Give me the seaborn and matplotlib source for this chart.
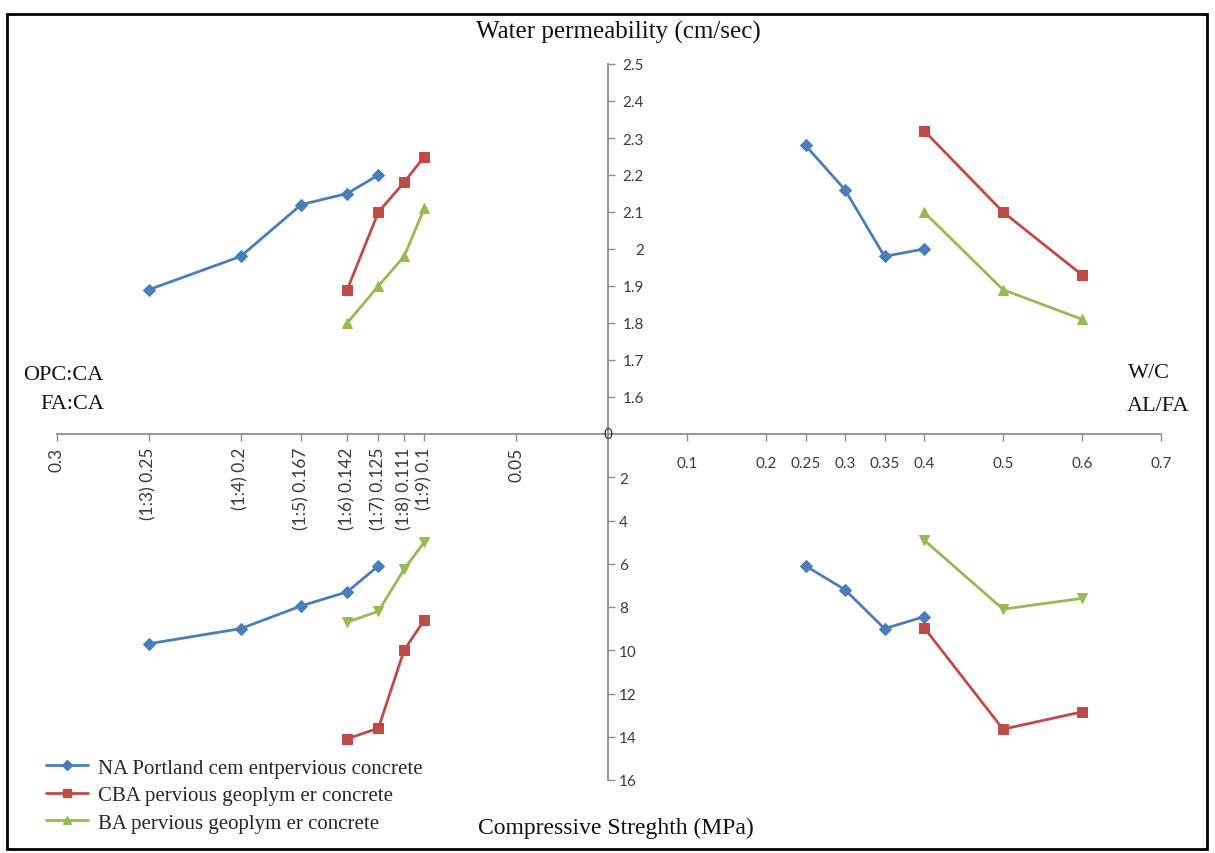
import matplotlib
matplotlib.use("Agg")
import matplotlib.pyplot as plt
import seaborn as sns
from matplotlib.lines import Line2D
from matplotlib.patches import Rectangle

# ---------------- data ----------------
series_names = ["NA Portland cem entpervious concrete",
                "CBA pervious geoplym er concrete",
                "BA pervious geoplym er concrete"]

# left half: OPC:CA / FA:CA ratio
x_left_np = [0.25, 0.2, 0.167, 0.142, 0.125]
x_left_geo = [0.142, 0.125, 0.111, 0.1]
perm_left_np = [1.89, 1.98, 2.12, 2.15, 2.20]
perm_left_cba = [1.89, 2.10, 2.18, 2.25]
perm_left_ba = [1.80, 1.90, 1.98, 2.11]
str_left_np = [9.7, 9.0, 7.95, 7.3, 6.1]
str_left_cba = [14.1, 13.6, 10.0, 8.6]
str_left_ba = [8.7, 8.2, 6.25, 5.0]

# right half: W/C and AL/FA ratio
x_right_np = [0.25, 0.3, 0.35, 0.4]
x_right_geo = [0.4, 0.5, 0.6]
perm_right_np = [2.28, 2.16, 1.98, 2.00]
perm_right_cba = [2.32, 2.10, 1.93]
perm_right_ba = [2.10, 1.89, 1.81]
str_right_np = [6.1, 7.2, 9.0, 8.45]
str_right_cba = [8.95, 13.65, 12.85]
str_right_ba = [4.9, 8.1, 7.6]

left_ticks = [0.3, 0.25, 0.2, 0.167, 0.142, 0.125, 0.111, 0.1, 0.05]
left_tick_labels = ["0.3", "(1:3) 0.25", "(1:4) 0.2", "(1:5) 0.167", "(1:6) 0.142",
                    "(1:7) 0.125", "(1:8) 0.111", "(1:9) 0.1", "0.05"]
right_ticks = [0.1, 0.2, 0.25, 0.3, 0.35, 0.4, 0.5, 0.6, 0.7]
right_tick_labels = ["0.1", "0.2", "0.25", "0.3", "0.35", "0.4", "0.5", "0.6", "0.7"]
perm_ticks = [1.6, 1.7, 1.8, 1.9, 2.0, 2.1, 2.2, 2.3, 2.4, 2.5]
perm_tick_labels = ["1.6", "1.7", "1.8", "1.9", "2", "2.1", "2.2", "2.3", "2.4", "2.5"]
str_ticks = [2, 4, 6, 8, 10, 12, 14, 16]
str_tick_labels = ["2", "4", "6", "8", "10", "12", "14", "16"]

# ---------------- style ----------------
sns.set_theme(style="white")
plt.rcParams["font.family"] = ["Liberation Serif", "DejaVu Sans"]

BLUE, RED, GREEN = "#4A7EBB", "#BE4B48", "#98B954"
AXC = "#8C8C8C"
TICKC = "#3A3A3A"
TICKFONT = "Lato"
TFS = 11

W, H = 1215, 854
fig = plt.figure(figsize=(W / 100, H / 100), dpi=100)


def rect(x0, y0, x1, y1):
    return [x0 / W, 1 - y1 / H, (x1 - x0) / W, (y1 - y0) / H]


CX, CY, XL, XR, YT, YB = 608, 435, 57, 1161, 65, 781
ax_tl = fig.add_axes(rect(XL, YT, CX, CY))
ax_tr = fig.add_axes(rect(CX, YT, XR, CY))
ax_bl = fig.add_axes(rect(XL, CY, CX, YB))
ax_br = fig.add_axes(rect(CX, CY, XR, YB))
axes = [ax_tl, ax_tr, ax_bl, ax_br]

for ax in axes:
    ax.set_facecolor("none")
    for s in ax.spines.values():
        s.set_visible(False)

ax_tl.set_xlim(0.3, 0); ax_tl.set_ylim(1.5, 2.5)
ax_tr.set_xlim(0, 0.7); ax_tr.set_ylim(1.5, 2.5)
ax_bl.set_xlim(0.3, 0); ax_bl.set_ylim(16, 0)
ax_br.set_xlim(0, 0.7); ax_br.set_ylim(16, 0)


def draw(ax, x, y, color, marker, ms):
    sns.lineplot(x=x, y=y, ax=ax, color=color, marker=marker, markersize=ms,
                 markeredgecolor=color, linewidth=2.0, sort=False, legend=False,
                 clip_on=False)


draw(ax_tl, x_left_np, perm_left_np, BLUE, "D", 6)
draw(ax_tl, x_left_geo, perm_left_cba, RED, "s", 7)
draw(ax_tl, x_left_geo, perm_left_ba, GREEN, "^", 7)
draw(ax_tr, x_right_np, perm_right_np, BLUE, "D", 6)
draw(ax_tr, x_right_geo, perm_right_cba, RED, "s", 7)
draw(ax_tr, x_right_geo, perm_right_ba, GREEN, "^", 7)
draw(ax_bl, x_left_np, str_left_np, BLUE, "D", 6)
draw(ax_bl, x_left_geo, str_left_cba, RED, "s", 7)
draw(ax_bl, x_left_geo, str_left_ba, GREEN, "v", 7)
draw(ax_br, x_right_np, str_right_np, BLUE, "D", 6)
draw(ax_br, x_right_geo, str_right_cba, RED, "s", 7)
draw(ax_br, x_right_geo, str_right_ba, GREEN, "v", 7)

for ax in axes:
    ax.set_xlabel(""); ax.set_ylabel("")
    ax.set_xticks([]); ax.set_yticks([])

# horizontal axis (left part) with rotated labels
ax_tl.spines["bottom"].set_visible(True)
ax_tl.spines["bottom"].set_color(AXC); ax_tl.spines["bottom"].set_linewidth(1.3)
ax_tl.set_xticks(left_ticks)
ax_tl.set_xticklabels(left_tick_labels, rotation=90, fontfamily=TICKFONT,
                      fontsize=12.5, color=TICKC)
ax_tl.tick_params(axis="x", bottom=True, direction="out", length=5, width=1,
                  color=AXC, pad=4)

# horizontal axis (right part)
ax_tr.spines["bottom"].set_visible(True)
ax_tr.spines["bottom"].set_color(AXC); ax_tr.spines["bottom"].set_linewidth(1.3)
ax_tr.set_xticks(right_ticks)
ax_tr.set_xticklabels(right_tick_labels, fontfamily=TICKFONT, fontsize=TFS, color=TICKC)
ax_tr.tick_params(axis="x", bottom=True, direction="out", length=5, width=1,
                  color=AXC, pad=11)

# vertical axis upper part (permeability)
ax_tl.spines["right"].set_visible(True)
ax_tl.spines["right"].set_color(AXC); ax_tl.spines["right"].set_linewidth(1.3)
ax_tl.set_yticks(perm_ticks)
ax_tl.set_yticklabels(perm_tick_labels, fontfamily=TICKFONT, fontsize=TFS, color=TICKC)
ax_tl.tick_params(axis="y", left=False, right=True, labelleft=False, labelright=True,
                  direction="out", length=5, width=1, color=AXC, pad=21)
for lab in ax_tl.get_yticklabels():
    lab.set_horizontalalignment("right")

# vertical axis lower part (strength)
ax_bl.spines["right"].set_visible(True)
ax_bl.spines["right"].set_color(AXC); ax_bl.spines["right"].set_linewidth(1.3)
ax_bl.set_yticks(str_ticks)
ax_bl.set_yticklabels(str_tick_labels, fontfamily=TICKFONT, fontsize=TFS, color=TICKC)
ax_bl.tick_params(axis="y", left=False, right=True, labelleft=False, labelright=True,
                  direction="out", length=5, width=1, color=AXC, pad=3)

# origin label
fig.text(CX / W, 1 - CY / H, "0", ha="center", va="center", fontfamily=TICKFONT,
         fontsize=TFS, color=TICKC)

# titles and axis captions
fig.text(618 / W, 1 - 32 / H, "Water permeability (cm/sec)", ha="center", va="center",
         fontsize=18, color="#111111")
fig.text(616 / W, 1 - 828 / H, "Compressive Streghth (MPa)", ha="center", va="center",
         fontsize=17, color="#111111")
fig.text(104 / W, 1 - 376 / H, "OPC:CA", ha="right", va="center", fontsize=16, color="#111111")
fig.text(104 / W, 1 - 405 / H, "FA:CA", ha="right", va="center", fontsize=16, color="#111111")
fig.text(1128 / W, 1 - 374 / H, "W/C", ha="left", va="center", fontsize=16, color="#111111")
fig.text(1127 / W, 1 - 407 / H, "AL/FA", ha="left", va="center", fontsize=16, color="#111111")

# legend
handles = [Line2D([], [], color=BLUE, marker="D", markersize=5, linewidth=2),
           Line2D([], [], color=RED, marker="s", markersize=6, linewidth=2),
           Line2D([], [], color=GREEN, marker="^", markersize=6, linewidth=2)]
fig.legend(handles, series_names, loc="upper left", bbox_to_anchor=(46 / W, 1 - 759 / H),
           frameon=False, fontsize=15, handlelength=2.0, handletextpad=0.5,
           labelspacing=0.38, borderaxespad=0, borderpad=0)

# outer frame
fig.patches.append(Rectangle((7 / W, 1 - 850 / H), (1207 - 7) / W, (850 - 15) / H,
                             transform=fig.transFigure, fill=False, edgecolor="black",
                             linewidth=2))

fig.savefig("out.png", dpi=100)
